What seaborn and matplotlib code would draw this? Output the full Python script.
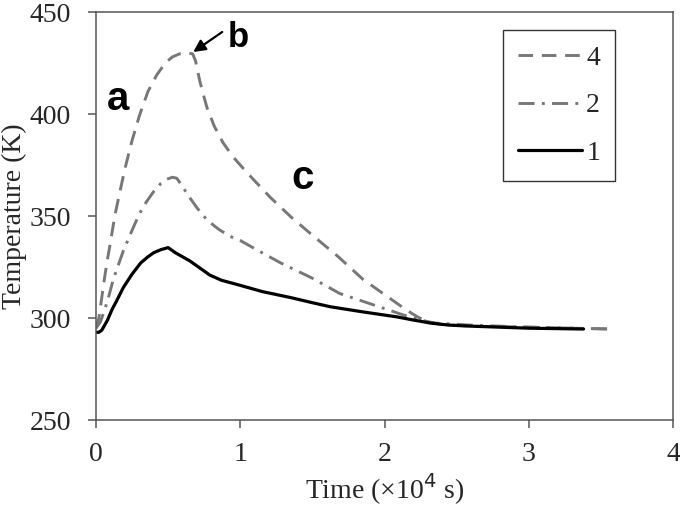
import matplotlib
matplotlib.use("Agg")
import matplotlib.pyplot as plt
import seaborn as sns

# Series 4 (dashed)
time_4 = [0.00, 0.02, 0.04, 0.06, 0.08, 0.10, 0.13, 0.16, 0.20, 0.25, 0.30, 0.36, 0.42,
          0.48, 0.53, 0.58, 0.63, 0.67, 0.69, 0.72, 0.75, 0.77, 0.82, 0.88, 0.95, 1.05,
          1.13, 1.21, 1.36, 1.51, 1.68, 1.85, 2.05, 2.15, 2.23, 2.30, 2.40, 2.60, 3.00,
          3.30, 3.57]
temp_4 = [295, 300, 310, 320, 329, 337, 350, 360, 373, 387, 399, 411, 419,
          425, 428, 429.5, 430, 429.5, 426, 416, 408, 403, 394, 386, 379, 371,
          365, 359, 349, 340, 330, 319, 309, 304, 300.5, 298, 296.8, 296, 295.5,
          295, 294.6]

# Series 2 (dash-dot)
time_2 = [0.00, 0.03, 0.06, 0.09, 0.12, 0.16, 0.19, 0.25, 0.30, 0.35, 0.40, 0.45, 0.49,
          0.53, 0.56, 0.60, 0.63, 0.70, 0.77, 0.85, 0.93, 1.00, 1.10, 1.28, 1.50, 1.69,
          1.90, 2.13, 2.25, 2.35, 2.60, 3.00, 3.30, 3.57]
temp_2 = [295, 298, 304, 311, 319, 327, 333, 343, 351, 357, 362, 366, 368,
          369, 368.5, 364.5, 361, 354, 348, 343.5, 340, 338, 334, 327, 319.5, 312,
          307, 301.5, 299, 297.5, 296.5, 295.5, 295, 294.6]

# Series 1 (solid)
time_1 = [0.00, 0.02, 0.04, 0.06, 0.08, 0.11, 0.14, 0.19, 0.25, 0.31, 0.36, 0.40, 0.45,
          0.50, 0.55, 0.60, 0.65, 0.72, 0.79, 0.87, 1.00, 1.15, 1.35, 1.50, 1.625, 1.85,
          2.09, 2.20, 2.32, 2.45, 2.60, 3.00, 3.38]
temp_1 = [293, 293, 294, 296.5, 299, 304, 308, 315, 321.5, 327, 330, 332, 333.5,
          334.5, 332, 330, 328, 324.5, 321, 318.5, 316, 313, 310, 307.5, 305.5, 303,
          300.5, 299, 297.5, 296.5, 296, 295, 294.6]

series = [
    ("4", time_4, temp_4, "#777777", (0, (5, 3))),
    ("2", time_2, temp_2, "#777777", (0, (5.5, 2.5, 1, 2.5))),
    ("1", time_1, temp_1, "black", "-"),
]

sns.set_style("ticks")
plt.rcParams["font.family"] = ["Liberation Serif", "DejaVu Serif"]

fig = plt.figure(figsize=(6.8, 5.07), dpi=100)
ax = fig.add_axes([96 / 680, 1 - 420 / 507, 577 / 680, 408 / 507])

for name, t, temp, color, ls in series:
    sns.lineplot(x=t, y=temp, ax=ax, label=name, color=color, linestyle=ls,
                 linewidth=2.3 if name == "1" else 2.1, sort=False)

ax.set_xlim(0, 4)
ax.set_ylim(250, 450)
ax.set_xticks([0, 1, 2, 3, 4])
ax.set_yticks([250, 300, 350, 400, 450])

for sp in ax.spines.values():
    sp.set_visible(True)
    sp.set_color("#555555")
    sp.set_linewidth(1.1)
ax.tick_params(direction="out", length=6, width=1.1, color="#555555", labelsize=20)
ax.tick_params(axis="x", pad=10)
ax.tick_params(axis="y", pad=12)

ax.set_xlabel("Time (×10$^{4}$ s)", fontsize=20, labelpad=3)
ax.set_ylabel("Temperature (K)", fontsize=20, labelpad=2)

leg = ax.legend(loc="upper right", bbox_to_anchor=(0.9, 0.956), borderaxespad=0,
                fontsize=20, frameon=True, fancybox=False, edgecolor="black",
                handlelength=2.3, handletextpad=0.15, labelspacing=0.8,
                borderpad=0.55, alignment="right")
leg.get_frame().set_linewidth(1.0)

# letter annotations
lab_font = dict(family=["Liberation Sans", "DejaVu Sans"], fontweight="bold",
                color="black", ha="center", va="baseline")
ax.text(0.153, 402, "a", fontsize=29, **lab_font)
ax.text(1.43, 363, "c", fontsize=29, **lab_font)
ax.text(0.99, 433, "b", fontsize=25, **lab_font)
ax.annotate("", xy=(0.674, 430.4), xytext=(0.875, 440.2),
            arrowprops=dict(arrowstyle="-|>", color="black", lw=1.6,
                            mutation_scale=18, shrinkA=0, shrinkB=0))

fig.savefig("out.png", dpi=100)
